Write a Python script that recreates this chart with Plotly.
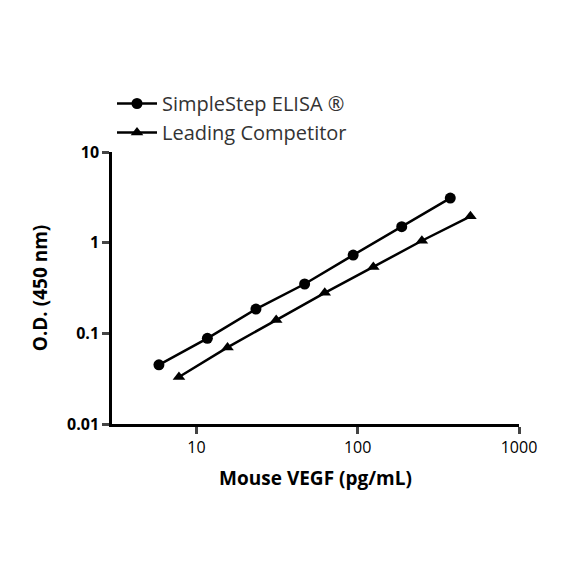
import plotly.graph_objects as go

x1 = [5.86, 11.7, 23.4, 46.9, 93.75, 187.5, 375]
y1 = [0.045, 0.088, 0.185, 0.35, 0.73, 1.5, 3.1]
x2 = [7.8, 15.6, 31.25, 62.5, 125, 250, 500]
y2 = [0.033, 0.07, 0.14, 0.28, 0.54, 1.05, 1.95]
names = ["SimpleStep ELISA ®", "Leading Competitor"]

fig = go.Figure()
fig.add_trace(go.Scatter(x=x1, y=y1, name=names[0], mode="lines+markers",
    line=dict(color="black", width=2.5), marker=dict(symbol="circle", size=11, color="black")))
fig.add_trace(go.Scatter(x=x2, y=y2, name=names[1], mode="lines+markers",
    line=dict(color="black", width=2.5), marker=dict(symbol="triangle-up", size=11, color="black")))
fig.update_layout(
    width=584, height=584, plot_bgcolor="white", paper_bgcolor="white",
    margin=dict(l=104, r=73, t=144, b=168),
    font=dict(family="Open Sans, sans-serif", color="black"),
    legend=dict(x=0.0, y=1.25, xanchor="left", yanchor="top", font=dict(size=20, color="#333"),
                bgcolor="rgba(0,0,0,0)", itemwidth=40, tracegroupgap=8),
)
fig.update_xaxes(type="log", range=[0.477, 3], showgrid=False, showline=True,
    linecolor="black", linewidth=2.5, ticks="outside", tickwidth=2.5, ticklen=7,
    tickvals=[10, 100, 1000], ticktext=["10", "100", "1000"], tickfont=dict(size=16),
    title=dict(text="<b>Mouse VEGF (pg/mL)</b>", font=dict(size=19)), zeroline=False)
fig.update_yaxes(type="log", range=[-2, 1], showgrid=False, showline=True,
    linecolor="black", linewidth=2.5, ticks="outside", tickwidth=2.5, ticklen=7,
    tickvals=[0.01, 0.1, 1, 10], ticktext=["<b>0.01</b>", "<b>0.1</b>", "<b>1</b>", "<b>10</b>"],
    tickfont=dict(size=16), title=dict(text="<b>O.D. (450 nm)</b>", font=dict(size=19)), zeroline=False)
fig.write_html("out.html")
